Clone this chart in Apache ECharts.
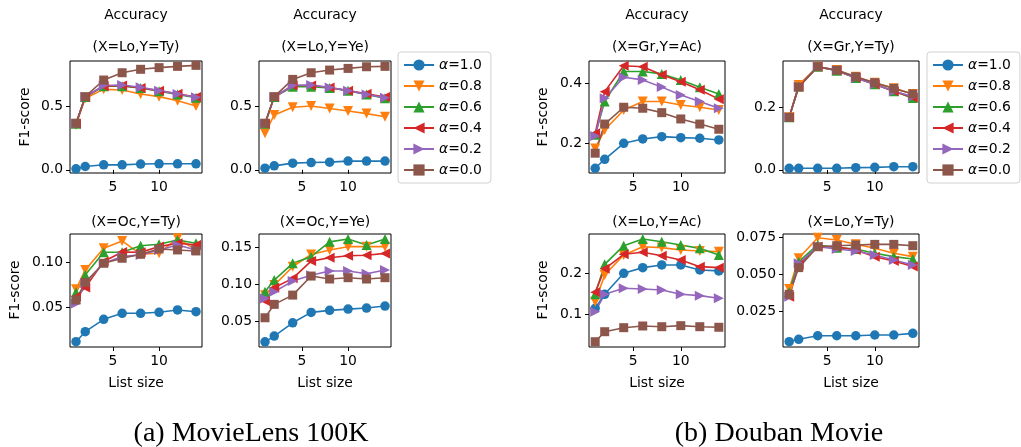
<!DOCTYPE html>
<html><head><meta charset="utf-8">
<script src="https://cdn.jsdelivr.net/npm/echarts@6/dist/echarts.min.js"></script>
<style>html,body{margin:0;padding:0;background:#fff}#c{width:1021px;height:447px}</style>
</head><body><div id="c"></div>
<script>
// ---- data ----
const listSizes = [1, 2, 4, 6, 8, 10, 12, 14];
const alphaNames = ['α=1.0', 'α=0.8', 'α=0.6', 'α=0.4', 'α=0.2', 'α=0.0'];
const panelTitles = ['(X=Lo,Y=Ty)', '(X=Lo,Y=Ye)', '(X=Oc,Y=Ty)', '(X=Oc,Y=Ye)',
                     '(X=Gr,Y=Ac)', '(X=Gr,Y=Ty)', '(X=Lo,Y=Ac)', '(X=Lo,Y=Ty)'];
const captions = ['(a) MovieLens 100K', '(b) Douban Movie'];

// MovieLens 100K (X=Lo,Y=Ty): series order alpha 1.0,0.8,0.6,0.4,0.2,0.0
const mlLoTy = [
  [0.008, 0.026, 0.039, 0.039, 0.045, 0.047, 0.047, 0.047],
  [0.35, 0.56, 0.63, 0.625, 0.594, 0.573, 0.54, 0.50],
  [0.36, 0.57, 0.655, 0.655, 0.64, 0.615, 0.59, 0.565],
  [0.36, 0.57, 0.655, 0.66, 0.64, 0.62, 0.595, 0.57],
  [0.36, 0.57, 0.66, 0.664, 0.646, 0.62, 0.594, 0.568],
  [0.365, 0.573, 0.703, 0.76, 0.787, 0.80, 0.81, 0.818]
];
const mlLoYe = [
  [0.013, 0.031, 0.052, 0.057, 0.06, 0.068, 0.068, 0.068],
  [0.286, 0.43, 0.49, 0.50, 0.48, 0.46, 0.44, 0.416],
  [0.36, 0.57, 0.65, 0.65, 0.64, 0.62, 0.59, 0.56],
  [0.36, 0.57, 0.66, 0.66, 0.645, 0.62, 0.595, 0.57],
  [0.36, 0.57, 0.66, 0.665, 0.645, 0.62, 0.59, 0.565],
  [0.365, 0.573, 0.708, 0.76, 0.781, 0.794, 0.807, 0.81]
];
const mlOcTy = [
  [0.0115, 0.0226, 0.0363, 0.043, 0.043, 0.0441, 0.0467, 0.0448],
  [0.0697, 0.0911, 0.1152, 0.1233, 0.1085, 0.1096, 0.1263, 0.1133],
  [0.0663, 0.0856, 0.1107, 0.1107, 0.118, 0.1196, 0.1244, 0.1207],
  [0.0615, 0.0715, 0.1004, 0.111, 0.1107, 0.117, 0.1207, 0.1189],
  [0.054, 0.0763, 0.0985, 0.106, 0.1078, 0.1133, 0.1189, 0.1133],
  [0.0578, 0.0774, 0.0985, 0.1041, 0.1085, 0.1144, 0.1133, 0.1122]
];
const mlOcYe = [
  [0.022, 0.0297, 0.0477, 0.0617, 0.0645, 0.0662, 0.0676, 0.0703],
  [0.085, 0.0986, 0.1234, 0.140, 0.146, 0.1505, 0.1505, 0.1505],
  [0.0896, 0.1054, 0.128, 0.137, 0.157, 0.1608, 0.1527, 0.1608],
  [0.077, 0.095, 0.1077, 0.131, 0.1356, 0.1383, 0.139, 0.1414],
  [0.0806, 0.0896, 0.104, 0.112, 0.1176, 0.1176, 0.114, 0.1189],
  [0.0545, 0.0726, 0.0851, 0.1108, 0.1068, 0.1086, 0.1068, 0.1086]
];
// Douban Movie
const dbGrAc = [
  [0.1157, 0.1457, 0.199, 0.2133, 0.221, 0.2177, 0.2157, 0.21],
  [0.182, 0.243, 0.31, 0.338, 0.338, 0.3267, 0.319, 0.31],
  [0.227, 0.338, 0.438, 0.438, 0.43, 0.41, 0.3857, 0.3633],
  [0.232, 0.371, 0.457, 0.454, 0.427, 0.404, 0.377, 0.346],
  [0.223, 0.349, 0.419, 0.41, 0.386, 0.36, 0.338, 0.316],
  [0.166, 0.263, 0.319, 0.3157, 0.301, 0.28, 0.263, 0.2457]
];
const dbGrTy = [
  [0.005, 0.005, 0.005, 0.005, 0.007, 0.008, 0.01, 0.01],
  [0.167, 0.27, 0.328, 0.317, 0.296, 0.277, 0.259, 0.241],
  [0.167, 0.265, 0.328, 0.315, 0.292, 0.272, 0.25, 0.228],
  [0.167, 0.265, 0.328, 0.316, 0.293, 0.272, 0.25, 0.23],
  [0.167, 0.265, 0.328, 0.316, 0.292, 0.272, 0.25, 0.233],
  [0.167, 0.263, 0.328, 0.317, 0.296, 0.277, 0.259, 0.241]
];
const dbLoAc = [
  [0.1139, 0.148, 0.1992, 0.213, 0.2195, 0.2195, 0.2073, 0.205],
  [0.13, 0.195, 0.244, 0.264, 0.2618, 0.256, 0.2537, 0.252],
  [0.148, 0.221, 0.2666, 0.283, 0.2763, 0.268, 0.26, 0.244],
  [0.153, 0.21, 0.2456, 0.2505, 0.242, 0.2317, 0.2154, 0.213],
  [0.1057, 0.148, 0.1627, 0.161, 0.1585, 0.148, 0.1447, 0.1383],
  [0.0324, 0.0568, 0.0666, 0.0707, 0.069, 0.0715, 0.069, 0.0676]
];
const dbLoTy = [
  [0.0043, 0.0059, 0.0083, 0.0083, 0.0083, 0.0088, 0.0088, 0.0099],
  [0.0399, 0.0606, 0.0745, 0.073, 0.0701, 0.0674, 0.064, 0.0617],
  [0.0378, 0.0583, 0.0696, 0.0678, 0.0669, 0.064, 0.0617, 0.0601],
  [0.0347, 0.0561, 0.0684, 0.0684, 0.0662, 0.0617, 0.0588, 0.055],
  [0.0347, 0.0572, 0.0684, 0.0669, 0.0655, 0.0628, 0.0595, 0.0561],
  [0.0363, 0.0543, 0.0684, 0.0691, 0.0696, 0.07, 0.07, 0.0691]
];
const panelData = [mlLoTy, mlLoYe, mlOcTy, mlOcYe, dbGrAc, dbGrTy, dbLoAc, dbLoTy];

// y-axis ranges / ticks per panel
const yMins = [-0.025, -0.025, 0.0056, 0.015, 0.1, -0.01, 0.0195, 0.0007];
const yMaxs = [0.852, 0.852, 0.131, 0.1676, 0.473, 0.346, 0.295, 0.077];
const yTicks = [[0, 0.5], [0, 0.5], [0.05, 0.10], [0.05, 0.10, 0.15], [0.2, 0.4], [0, 0.2], [0.1, 0.2], [0.025, 0.050, 0.075]];
const yDecimals = [1, 1, 2, 2, 1, 1, 1, 3];
const xTicks = [5, 10];

// ---- layout ----
const colors = ['#1f77b4', '#ff7f0e', '#2ca02c', '#d62728', '#9467bd', '#8c564b'];
const symbols = ['circle', 'path://M0,0L10,0L5,9Z', 'path://M5,0L10,9L0,9Z',
                 'path://M0,5L9,0L9,10Z', 'path://M0,0L9,5L0,10Z', 'rect'];
const symSizes = [9.5, 10, 10, 10, 10, 9];
const grids = [
  {left: 70, top: 61, width: 132, height: 112},
  {left: 259, top: 61, width: 132, height: 112},
  {left: 70, top: 234, width: 132, height: 113},
  {left: 259, top: 234, width: 132, height: 113},
  {left: 589, top: 61, width: 136, height: 112},
  {left: 783, top: 61, width: 136, height: 112},
  {left: 589, top: 234, width: 136, height: 113},
  {left: 783, top: 234, width: 136, height: 113}
];
const FS = 13.9, FF = 'DejaVu Sans';

const option = {
  animation: false,
  backgroundColor: '#fff',
  grid: grids.map(g => Object.assign({show: true, borderColor: '#000', borderWidth: 1, backgroundColor: 'transparent', containLabel: false}, g)),
  xAxis: grids.map((g, i) => ({
    type: 'value', gridIndex: i, min: 0.35, max: 14.65,
    axisLine: {show: false}, splitLine: {show: false},
    axisTick: {show: true, inside: false, length: 4, lineStyle: {color: '#000', width: 1}, customValues: xTicks},
    axisLabel: {show: true, margin: 7, color: '#000', fontSize: FS, fontFamily: FF, customValues: xTicks, formatter: v => String(v)}
  })),
  yAxis: grids.map((g, i) => ({
    type: 'value', gridIndex: i, min: yMins[i], max: yMaxs[i],
    axisLine: {show: false}, splitLine: {show: false},
    axisTick: {show: true, inside: false, length: 4, lineStyle: {color: '#000', width: 1}, customValues: yTicks[i]},
    axisLabel: {show: true, margin: 7, color: '#000', fontSize: FS, fontFamily: FF, customValues: yTicks[i],
      formatter: v => Number(v).toFixed(yDecimals[i])}
  })),
  legend: [
    {left: 398, top: 52}, {left: 927, top: 52}
  ].map(p => ({
    left: p.left, top: p.top, orient: 'vertical', data: alphaNames,
    itemWidth: 30, itemHeight: 14, itemGap: 7, padding: [6, 9, 6, 5],
    backgroundColor: '#fff', borderColor: '#d0d0d0', borderWidth: 1, borderRadius: 3,
    selectedMode: false,
    formatter: n => '{i|α}{n|' + n.slice(1) + '}',
    textStyle: {color: '#000', fontSize: FS, fontFamily: FF,
      rich: {i: {fontStyle: 'italic', fontSize: FS, fontFamily: FF, color: '#000'}, n: {fontSize: FS, fontFamily: FF, color: '#000'}}}
  })),
  series: [],
  graphic: []
};

panelData.forEach((pd, p) => {
  pd.forEach((vals, s) => {
    option.series.push({
      name: alphaNames[s], type: 'line', xAxisIndex: p, yAxisIndex: p,
      data: listSizes.map((x, k) => [x, vals[k]]),
      symbol: symbols[s], symbolSize: symSizes[s], showSymbol: true,
      lineStyle: {color: colors[s], width: 1.6},
      itemStyle: {color: colors[s], borderWidth: 0},
      emphasis: {disabled: true}, clip: false
    });
  });
});

const txt = (x, y, text, extra) => Object.assign({
  type: 'text', x: x, y: y, silent: true,
  style: Object.assign({text: text, fill: '#000', font: FS + 'px "DejaVu Sans"', align: 'center', verticalAlign: 'middle'}, extra || {})
});
const G = option.graphic;
grids.forEach((g, i) => {
  const cx = g.left + g.width / 2;
  if (g.top < 100) {
    G.push(txt(cx, 15, 'Accuracy'));
    G.push(txt(cx, 47, panelTitles[i]));
  } else {
    G.push(txt(cx, 222, panelTitles[i]));
    G.push(txt(cx, 383, 'List size'));
  }
});
// y labels
[[25, 117], [15, 290], [543, 117], [543, 290]].forEach(([x, y]) => {
  G.push({type: 'text', x: x, y: y, rotation: Math.PI / 2, silent: true,
    style: {text: 'F1-score', fill: '#000', font: FS + 'px "DejaVu Sans"', align: 'center', verticalAlign: 'middle'}});
});
G.push(txt(251, 434, captions[0], {font: '28px "Liberation Serif"'}));
G.push(txt(779, 434, captions[1], {font: '28px "Liberation Serif"'}));

const chart = echarts.init(document.getElementById('c'), null, {renderer: 'canvas'});
chart.setOption(option);
</script></body></html>
